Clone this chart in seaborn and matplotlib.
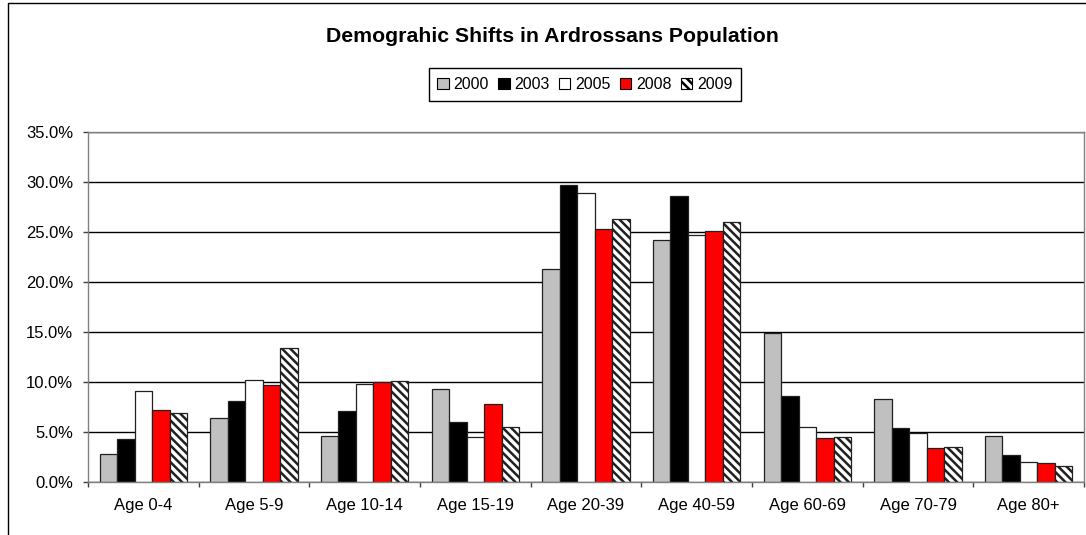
import matplotlib
matplotlib.use("Agg")
import matplotlib.pyplot as plt
from matplotlib.patches import Rectangle
from matplotlib.ticker import PercentFormatter, FixedLocator, NullFormatter
import seaborn as sns
import pandas as pd

# Share of population (%) by age band and survey year
age_bands = ["Age 0-4", "Age 5-9", "Age 10-14", "Age 15-19", "Age 20-39",
             "Age 40-59", "Age 60-69", "Age 70-79", "Age 80+"]
years = ["2000", "2003", "2005", "2008", "2009"]
share_2000 = [2.8, 6.4, 4.6, 9.3, 21.3, 24.2, 14.9, 8.3, 4.6]
share_2003 = [4.3, 8.1, 7.1, 6.0, 29.7, 28.6, 8.6, 5.4, 2.7]
share_2005 = [9.1, 10.2, 9.8, 4.5, 28.9, 24.7, 5.5, 4.9, 2.0]
share_2008 = [7.2, 9.7, 10.0, 7.8, 25.3, 25.1, 4.4, 3.4, 1.9]
share_2009 = [6.9, 13.4, 10.1, 5.5, 26.3, 26.0, 4.5, 3.5, 1.6]
y_ticks = [0, 5, 10, 15, 20, 25, 30, 35]

series = [share_2000, share_2003, share_2005, share_2008, share_2009]
df = pd.DataFrame({
    "age": age_bands * len(years),
    "year": [y for y in years for _ in age_bands],
    "share": [v for s in series for v in s],
})

fills = {"2000": "#C0C0C0", "2003": "#000000", "2005": "#FFFFFF",
         "2008": "#FF0000", "2009": "#FFFFFF"}
stripes = "\\\\\\\\"

sns.set_theme(style="white")
plt.rcParams["font.family"] = ["Liberation Sans", "DejaVu Sans"]
plt.rcParams["text.color"] = "black"
plt.rcParams["hatch.linewidth"] = 1.8
plt.rcParams["hatch.color"] = "black"

fig = plt.figure(figsize=(10.86, 5.35), dpi=100)
ax = fig.add_axes([88 / 1086, 53 / 535, 996 / 1086, 350 / 535])

sns.barplot(data=df, x="age", y="share", hue="year", order=age_bands,
            hue_order=years, palette=fills, edgecolor="#202020",
            linewidth=0.9, width=0.79, gap=0, saturation=1,
            legend=False, ax=ax)

# diagonal stripes for the latest year
for bar in ax.containers[-1]:
    bar.set_hatch(stripes)

ax.set_xlim(-0.5, len(age_bands) - 0.5)
ax.set_ylim(0, 35)
ax.set_yticks(y_ticks)
ax.yaxis.set_major_formatter(PercentFormatter(xmax=100, decimals=1))
ax.set_xlabel("")
ax.set_ylabel("")

ax.yaxis.grid(True, color="black", linewidth=1.0)
ax.set_axisbelow(True)
for side in ["left", "right", "top", "bottom"]:
    ax.spines[side].set_visible(True)
    ax.spines[side].set_color("#808080")
    ax.spines[side].set_linewidth(1.0)

ax.tick_params(axis="y", which="major", length=3.6, width=1, color="#404040",
               direction="out", labelsize=12, pad=7, left=True,
               labelcolor="black")
ax.tick_params(axis="x", which="major", length=0, labelsize=12, pad=11.5,
               labelcolor="black")
ax.xaxis.set_minor_locator(FixedLocator([i - 0.5 for i in range(len(age_bands) + 1)]))
ax.xaxis.set_minor_formatter(NullFormatter())
ax.tick_params(axis="x", which="minor", length=3.6, width=1, color="#404040",
               direction="out", bottom=True)

fig.text(552 / 1086, 1 - 36 / 535, "Demograhic Shifts in Ardrossans Population",
         ha="center", va="center", fontsize=15.3, fontweight="bold", color="black")

handles = [Rectangle((0, 0), 1, 1, facecolor=fills[y], edgecolor="black",
                     linewidth=0.8, hatch=(stripes if y == "2009" else None))
           for y in years]
fig.legend(handles, years, loc="center", ncol=5,
           bbox_to_anchor=(585 / 1086, 1 - 84.5 / 535),
           frameon=True, fancybox=False, edgecolor="black", framealpha=1,
           fontsize=11.5, handlelength=0.7, handleheight=0.7,
           handletextpad=0.3, columnspacing=0.6, borderpad=0.55,
           borderaxespad=0)

# chart-area border
fig.add_artist(Rectangle((8 / 1086, -0.1), 1.2, 1.1 - 3 / 535,
                         transform=fig.transFigure, fill=False,
                         edgecolor="black", linewidth=1.0))

fig.savefig("out.png", dpi=100, facecolor="white")
